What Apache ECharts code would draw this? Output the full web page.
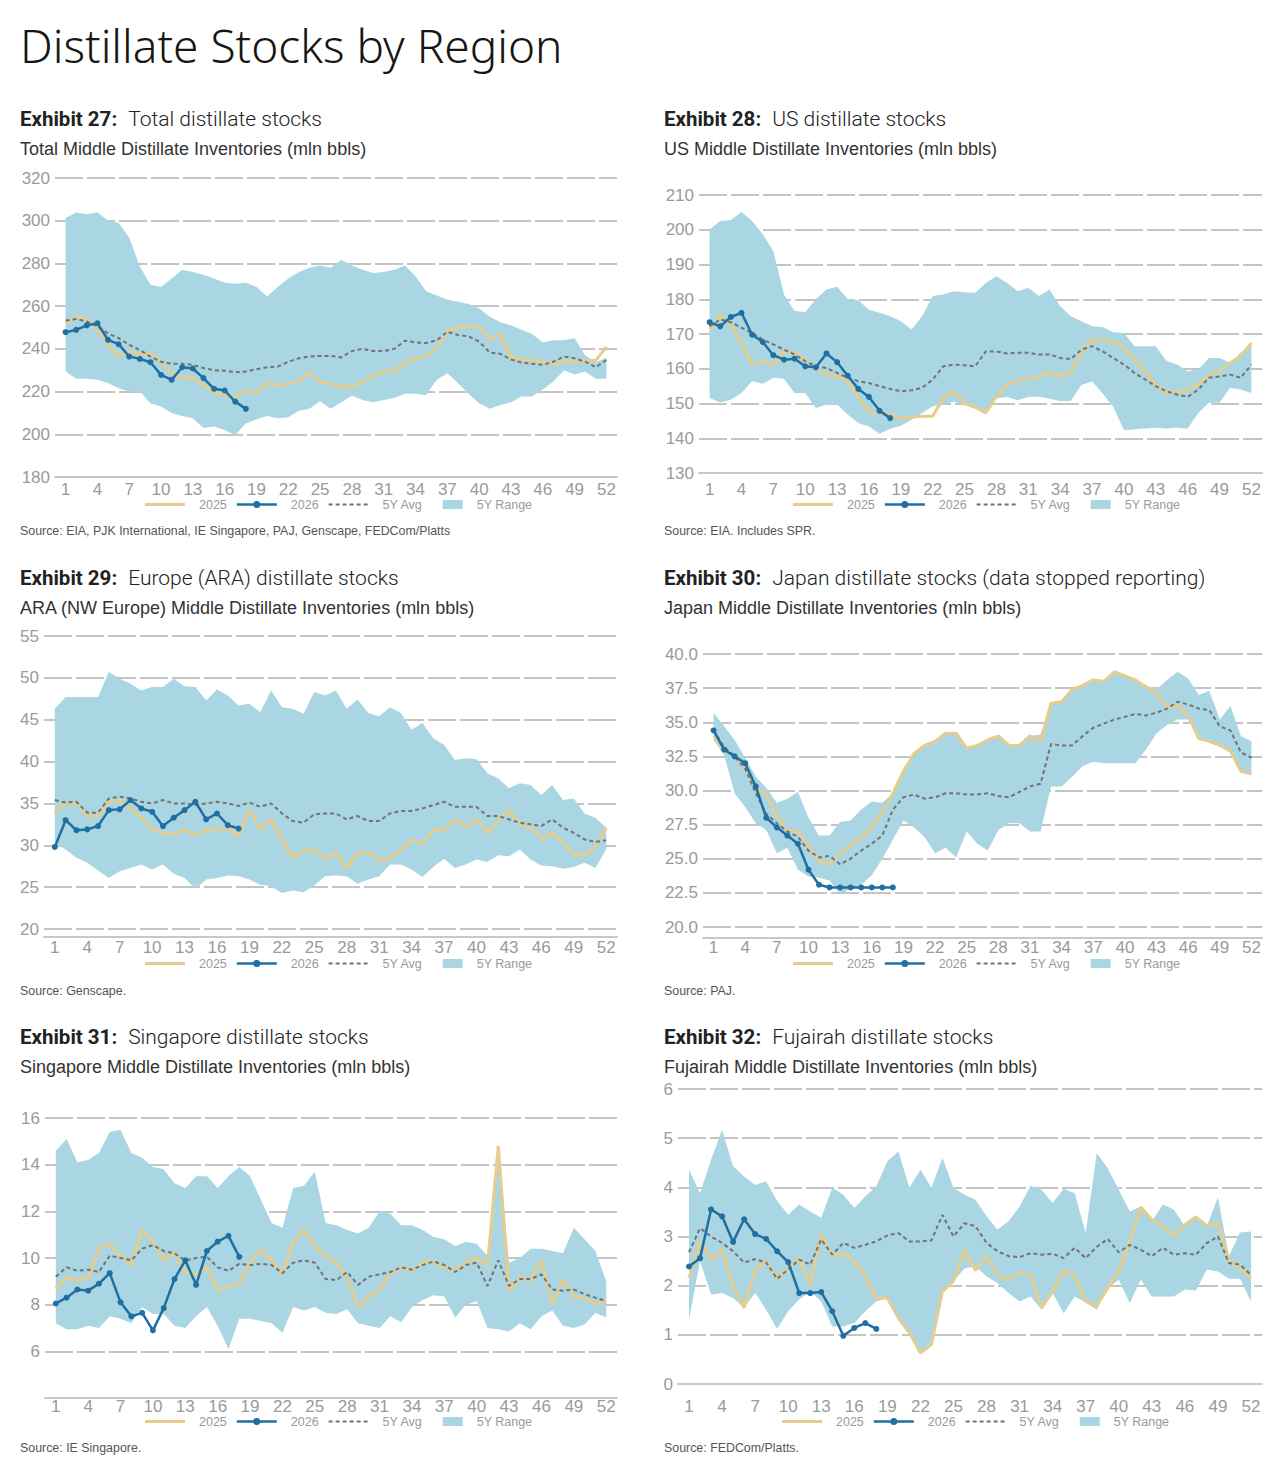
<!DOCTYPE html>
<html>
<head>
<meta charset="utf-8">
<title>Distillate Stocks by Region</title>
<script src="https://cdn.jsdelivr.net/npm/echarts@6/dist/echarts.min.js"></script>
<style>
  html, body { margin: 0; padding: 0; background: #fff; }
  #page { position: relative; width: 1284px; height: 1482px; overflow: hidden; }
  #chart { position: absolute; left: 0; top: 0; width: 1284px; height: 1482px; }
  .t { position: absolute; white-space: nowrap; }
  .title { left: 20px; top: 15px; font: 300 46px "Noto Sans"; color: #161616; line-height: 60px; }
  .ex { font: 300 21px Roboto; color: #222; line-height: 24px; }
  .ex b { font-weight: 700; font-size: 20.5px; margin-right: 11px; }
  .sub { font: 400 18px "Liberation Sans"; color: #333; line-height: 20px; }
  .src { font: 400 12.4px "Liberation Sans"; color: #555; line-height: 14px; }
</style>
</head>
<body>
<div id="page">
  <div id="chart"></div>
  <div class="t title">Distillate Stocks by Region</div>
</div>
<script>
// weeks 1..52, labels every third week
const WEEKS = Array.from({ length: 52 }, (_, i) => String(i + 1));
const WEEK_TICKS = ["1", "4", "7", "10", "13", "16", "19", "22", "25", "28", "31", "34", "37", "40", "43", "46", "49", "52"];

// --- Exhibit 27: total (mln bbls)
const TOTAL_MIN = [229.4,226,226,225.5,224,221.6,220,220,214.5,213,210,208.6,207.5,203,203.6,202,199.7,205,207,208.6,207.5,208,211,212,215.5,212,215,218,216,215,216,217,219,219,218.4,225.5,228.6,224,219,214.5,212,213.7,215,217.7,217.7,221,224.7,230,228,229.4,226,226];
const TOTAL_MAX = [301.3,303.9,303,304,300,299,292,278.6,270,269,273,277,276,274.7,273,271,270.5,271,269,264.5,269,273,276,278,279,278,281.7,279,277,275.5,276,277,279,274,267,265,263,262,261,259,255,252.5,251,249,247,243,244,244,245,237,233.6,236];
const TOTAL_AVG = [253.3,254,252.8,250.5,247.3,245,241.9,239.5,236.4,234,233,233,232.5,231,230,229.8,229,229.4,230.5,231.4,231.7,234,235.6,236.4,236.7,236.7,236,239,240,239,239,240,243.8,243,242.7,244,248,246.5,245.8,243.4,238.3,237.7,235,233.6,233,232.5,234,236.4,235.6,234,231.4,234.8];
const TOTAL_2025 = [252,255,254,249,242,236.4,238.8,237.2,238,234,228.6,226.3,226.7,223,219.5,218.4,217.3,220.8,219.5,224,223,223.6,225,229,224.5,223.6,222.3,222.3,224.7,227.5,229.5,229.5,233.5,235.5,236.5,241,248,250,250.5,250.5,244.5,247,236,235,234.5,234,232.5,234.5,233.5,234.5,234.5,241];
const TOTAL_2026 = [247.8,248.9,251,252,244.2,242.2,236.4,235.3,233.75,227.8,225.5,231.4,230.8,226.3,221.3,220.5,215.3,211.9];

// --- Exhibit 28: US
const US_MIN = [151.6,150.3,151.1,153,156.4,155.7,157.4,157.1,153,153,148.7,149.7,149.7,146.8,144.4,143.4,141.3,142.7,143.6,145.3,147.3,149.2,149.7,150.6,149.5,148.5,147,151.5,151.9,150.9,151.9,152,151.4,150.7,150.7,155.3,156.4,152.9,149.1,142.3,142.6,142.8,143,142.8,143,142.8,147.3,150.2,150.2,154.5,154,153];
const US_MAX = [200.1,202.5,202.8,205.1,202.5,198.7,193.9,181.4,176.6,176.3,180,182.8,183.6,180.1,179.7,177,176.1,175.1,173.7,171.3,175.1,180.9,181.4,182.3,182,181.9,184.7,186.6,184.7,182.3,183.3,180.9,182.8,178,175.1,173.7,172.2,172,170.5,170.3,166.5,166.5,166.5,162.2,161.2,159.3,159.8,163.1,163.1,161.7,164.6,167.4];
const US_AVG = [172.2,174.2,173.4,171.8,170.3,168.4,167,165.5,164.1,162.2,160.7,160.2,158.8,157.4,156.4,155.9,155,154.2,153.5,153.8,154.5,156.9,160.7,161.2,161,160.7,165,165,164.4,164.6,164.6,164.1,164.1,163.1,162.8,165.5,166.5,165,163.1,161.2,158.8,156.9,155,153.5,152.6,151.9,154,157.4,157.8,158.3,157.4,161.2];
const US_2025 = [171.3,175.6,172.7,167.4,161.2,162.2,160.9,165,164.4,162.6,160.2,158.3,157.8,156.4,151.6,147.8,147.3,146.8,145.5,146.1,146.3,146.3,151.6,153.5,150,149,147.3,152,155.4,156.9,157.2,157.7,159,157.8,159,164.6,168.6,168,168,166,162.6,159.3,155.4,153,153.5,154,155.4,158.3,159.3,161.7,163.6,167.4];
const US_2026 = [173.4,172.2,174.9,176.1,169.8,167.7,163.9,162.6,162.9,160.7,160.4,164.4,161.9,158,154.2,151.9,147.9,145.8];

// --- Exhibit 29: ARA
const ARA_MIN = [30.2,29.5,28.5,27.9,27,26.1,26.9,27.3,27.7,27.1,27.7,26.6,26.1,24.8,25.9,26.1,26.4,26.3,25.9,25.3,25.1,24.3,24.6,24.4,25.2,26.3,26.4,26.3,25.4,25.9,26.3,27.7,27.7,27.1,26.2,27.4,28.4,27.3,27.7,28.3,28,28.8,28.7,29.5,28.3,27.6,27.5,27.2,27.4,27.9,27.3,29.5];
const ARA_MAX = [46.3,47.7,47.7,47.7,47.7,50.7,49.9,49.3,48.5,48.9,48.9,49.9,49,48.9,47.3,48.6,47.9,46.7,46.9,45.9,48.5,46.5,46.3,45.7,48.3,47.9,48.5,46.3,47.4,45.8,45.4,46.5,45.8,43.8,44.6,42.8,42,40.2,40.4,40.3,38.6,38,36.8,37.4,37.2,36,37.2,35.4,35.6,33.8,33.3,32.1];
const ARA_AVG = [35.4,35.1,35.2,33.9,33.9,35.6,35.8,35.6,35.2,35,35.4,35,35,34.8,35,35.2,35,34.7,35.1,34.6,35,33.8,32.9,32.7,33.7,33.8,33.8,33.1,33.5,32.9,32.9,33.8,34.1,34.1,34.4,34.8,35.2,34.6,34.6,34.6,33.5,33.5,33.1,32.7,32.5,32.3,33.1,32.1,31.5,30.7,30.4,30.6];
const ARA_2025 = [33.9,35,35.1,33.5,33.5,35.2,35.4,34.4,33.3,31.9,31.5,31.3,31.8,31.2,31.8,31.9,32.1,31.1,34.2,31.9,33.1,30.7,28.5,29.3,29.4,28.5,29.1,27.3,29.1,29.1,28.2,28.4,29.5,30.6,30.2,31.8,31.8,33.1,32.2,33.1,31.5,32.9,34.2,32.5,32.3,30.7,31.5,30.3,28.9,28.8,29.9,32.1];
const ARA_2026 = [29.8,33,31.8,31.9,32.3,34.2,34.3,35.4,34.4,34,32.3,33.3,34.2,35.2,33.1,33.8,32.4,32];

// --- Exhibit 30: Japan
const JP_MIN = [33.7,32.6,29.8,28.8,27.6,27.1,25.4,25.8,24.2,23.7,23.6,23.4,22.4,22.8,23.1,23.8,25,26.4,27.8,27.3,26.6,25.4,25.8,25.1,27,26.1,25.6,27.1,27.6,27.6,27,27,30.3,30.3,31,31.8,32.1,32,32,32,32,33,34.2,34.8,35.2,35.2,33.8,33.6,33.3,32.9,31.4,31.2];
const JP_MAX = [35.7,34.7,33.7,32.4,31,30.2,29.1,29.4,29.9,28,26.7,26.7,27.7,27.8,28.6,29.2,29.1,29.8,31.4,32.7,33.3,33.6,34.2,34.2,33.1,33.3,33.7,34,33.3,33.3,34,34.1,36.4,36.5,37.4,37.7,38.1,38,38.7,38.4,38.1,37.7,37.4,38.1,38.7,38.2,37,37.3,35.2,36.2,34,33.6];
const JP_AVG = [34.4,33.2,32.5,31.6,29.8,28.3,27.6,27,26.6,25.6,25.1,25.2,24.6,25,25.6,26.1,26.7,28.6,29.5,29.7,29.4,29.5,29.8,29.8,29.7,29.7,29.8,29.6,29.5,29.9,30.3,30.5,33.4,33.3,33.3,34,34.6,34.9,35.2,35.4,35.6,35.5,35.7,36,36.5,36.3,36,35.9,34.7,34.4,32.8,32.4];
const JP_2025 = [34,33,32.5,31.7,30.2,29.7,28.2,27,27,25.9,24.8,24.6,25.4,26,26.5,27.3,28.4,29.8,31.4,32.7,33.3,33.6,34.2,34.2,33.1,33.3,33.7,34,33.3,33.3,34,33.6,36.4,36.5,37.4,37.7,38.1,38,38.7,38.4,38.1,37.6,37.1,36.1,36.2,35.5,33.8,33.6,33.3,32.9,31.4,31.2];
const JP_2026 = [34.4,33,32.5,32,30.3,28,27.3,26.7,26.1,24.2,23.1,22.9,22.9,22.9,22.9,22.9,22.9,22.9];

// --- Exhibit 31: Singapore
const SG_MIN = [7.2,6.95,6.95,7.1,7,7.5,7.4,7.2,7.9,7.6,7.6,7.1,7,7.5,7.9,7.1,6.1,7.4,7.4,7.3,7.2,6.8,7.9,7.75,7.9,7.65,7.6,7.8,7.2,7.1,7,7.5,7.25,7.9,8.2,8.4,8.35,7.45,8,8.15,7,6.95,6.85,7.2,6.95,7.5,7.75,7.1,7,7.15,7.65,7.45];
const SG_MAX = [14.6,15.1,14.1,14.2,14.5,15.4,15.5,14.5,14.3,13.9,13.8,13.2,13,13.5,13.5,13,13.5,13.9,13.5,12.5,11.5,11.3,13,13.1,13.7,11.5,11.4,11.2,11.05,11.3,12,11.9,11.4,11.4,11.2,10.9,10.8,10.5,10.7,10.6,10.1,14.7,9.8,10,10.4,10.4,10.3,10.2,11.3,10.8,10.3,9];
const SG_AVG = [9.2,9.6,9.45,9.5,9.4,10.1,10,9.9,10.4,10.55,10.3,10.2,9.9,10,10.05,9.6,9.45,9.75,9.7,9.75,9.7,9.35,9.8,9.9,9.8,9.1,9.05,9.4,8.85,9.2,9.3,9.4,9.6,9.5,9.7,9.85,9.7,9.4,9.7,9.8,8.8,9.9,8.8,9.1,9.1,9.3,8.65,8.6,8.65,8.45,8.3,8.15];
const SG_2025 = [8.7,9.15,9.05,9.15,10.4,10.6,10.1,9.7,11.2,10.7,9.9,10.2,9.35,9.3,9.6,8.6,8.75,8.9,9.8,10.35,9.9,9.3,10.7,11.2,10.5,10.05,9.8,9.15,7.9,8.35,8.65,9.35,9.6,9.45,9.8,9.85,9.6,9.5,9.8,10,9.7,14.8,8.6,9.15,9.05,9.9,8,9.05,8.35,8.3,8,8.2];
const SG_2026 = [8.05,8.3,8.65,8.6,8.9,9.35,8.1,7.5,7.65,6.9,7.85,9.1,9.9,8.85,10.3,10.7,10.95,10.05];

// --- Exhibit 32: Fujairah
const FUJ_MIN = [1.31,2.5,1.82,1.85,1.75,1.55,1.85,1.51,1.12,1.48,1.72,1.88,1.68,1.17,1.17,1.24,1.48,1.68,1.75,1.34,1.04,0.63,0.8,1.85,2.09,2.35,2.39,2.19,2.05,1.85,1.68,1.78,1.51,1.85,1.44,1.78,1.66,1.51,1.95,2.12,1.65,2.12,1.78,1.78,1.78,1.92,1.9,2.33,2.29,2.14,2.14,1.68];
const FUJ_MAX = [4.36,3.88,4.56,5.17,4.43,4.22,4.05,4.12,3.72,3.44,3.65,3.51,3.38,3.99,3.85,3.58,3.82,4.02,4.53,4.73,3.99,4.36,3.99,4.6,3.99,3.85,3.75,3.41,3.14,3.31,3.61,4.03,3.95,3.68,3.97,3.88,3.07,4.7,4.39,3.95,3.51,3.61,3.31,3.65,3.55,3.21,3.38,3.21,3.8,2.6,3.08,3.1];
const FUJ_AVG = [2.68,3.17,3,2.87,2.7,2.47,2.54,2.47,2.14,2.33,2.53,2.43,2.94,2.63,2.87,2.77,2.83,2.9,3.02,3.07,2.9,2.9,2.92,3.44,3,3.27,3.21,2.87,2.7,2.6,2.58,2.66,2.63,2.65,2.56,2.77,2.56,2.79,2.95,2.68,2.83,2.73,2.6,2.77,2.63,2.66,2.63,2.87,3,2.46,2.43,2.22];
const FUJ_2025 = [2.16,2.9,2.53,2.73,1.99,1.55,2.33,2.5,2.14,2.36,2.56,2.02,3.04,2.6,2.66,2.5,2.19,1.75,1.75,1.34,1.04,0.63,0.8,1.88,2.09,2.73,2.31,2.6,2.22,2.12,2.27,2.22,1.55,1.88,2.31,2.19,1.68,1.58,1.95,2.3,2.9,3.6,3.34,3.21,3.02,3.24,3.4,3.22,3.27,2.53,2.34,2.16];
const FUJ_2026 = [2.39,2.56,3.55,3.41,2.89,3.35,3.05,2.95,2.7,2.48,1.85,1.85,1.87,1.48,0.98,1.14,1.24,1.12];

// colours
const C_BAND = "#a9d6e2";
const C_2025 = "#e6cd8e";
const C_2026 = "#1f6fa3";
const C_AVG = "#737373";
const C_GRID = "#c4c4c4";
const C_LABEL = "#9a9a9a";

// layout of the six panels (page pixels); grid = [left, right, top, bottom]
const PANELS = [
  { ex: "Exhibit 27:", head: "Total distillate stocks", sub: "Total Middle Distillate Inventories (mln bbls)",
    src: "Source: EIA, PJK International, IE Singapore, PAJ, Genscape, FEDCom/Platts",
    x: 20, headY: 119, subY: 149, srcY: 531, grid: [55, 617, 178, 477], y: [180, 320, 20], off: 0, lm: 4,
    legend: [140, 503], d: [TOTAL_MIN, TOTAL_MAX, TOTAL_AVG, TOTAL_2025, TOTAL_2026] },
  { ex: "Exhibit 28:", head: "US distillate stocks", sub: "US Middle Distillate Inventories (mln bbls)",
    src: "Source: EIA. Includes SPR.",
    x: 664, headY: 119, subY: 149, srcY: 531, grid: [699, 1262, 195, 473], y: [130, 210, 10], off: 0, lm: 8,
    legend: [788, 503], d: [US_MIN, US_MAX, US_AVG, US_2025, US_2026] },
  { ex: "Exhibit 29:", head: "Europe (ARA) distillate stocks", sub: "ARA (NW Europe) Middle Distillate Inventories (mln bbls)",
    src: "Source: Genscape.",
    x: 20, headY: 578, subY: 608, srcY: 991, grid: [44, 617, 636, 929], y: [20, 55, 5], off: 8, lm: 2,
    legend: [140, 962], d: [ARA_MIN, ARA_MAX, ARA_AVG, ARA_2025, ARA_2026] },
  { ex: "Exhibit 30:", head: "Japan distillate stocks (data stopped reporting)", sub: "Japan Middle Distillate Inventories (mln bbls)",
    src: "Source: PAJ.",
    x: 664, headY: 578, subY: 608, srcY: 991, grid: [703, 1262, 654, 927], y: [20, 40, 2.5], off: 11, lm: 1, fixed: 1,
    legend: [788, 962], d: [JP_MIN, JP_MAX, JP_AVG, JP_2025, JP_2026] },
  { ex: "Exhibit 31:", head: "Singapore distillate stocks", sub: "Singapore Middle Distillate Inventories (mln bbls)",
    src: "Source: IE Singapore.",
    x: 20, headY: 1037, subY: 1067, srcY: 1448, grid: [45, 617, 1118, 1398], y: [4, 16, 2], off: 0, lm: 0, hideMin: true,
    legend: [140, 1420], d: [SG_MIN, SG_MAX, SG_AVG, SG_2025, SG_2026] },
  { ex: "Exhibit 32:", head: "Fujairah distillate stocks", sub: "Fujairah Middle Distillate Inventories (mln bbls)",
    src: "Source: FEDCom/Platts.",
    x: 664, headY: 1037, subY: 1067, srcY: 1448, grid: [678, 1262, 1089, 1384], y: [0, 6, 1], off: 13, lm: 1,
    legend: [777, 1420], d: [FUJ_MIN, FUJ_MAX, FUJ_AVG, FUJ_2025, FUJ_2026] },
];

// html headings
const page = document.getElementById("page");
function addText(cls, x, yCenter, lh, html) {
  const el = document.createElement("div");
  el.className = "t " + cls;
  el.style.left = x + "px";
  el.style.top = (yCenter - lh / 2) + "px";
  el.innerHTML = html;
  page.appendChild(el);
}
PANELS.forEach((p) => {
  addText("ex", p.x, p.headY, 24, `<b>${p.ex}</b>${p.head}`);
  addText("sub", p.x, p.subY, 20, p.sub);
  addText("src", p.x, p.srcY, 14, p.src);
});

// categories padded by one empty slot each side so week 1 / 52 sit inside the gridlines
const CATS = ["pad0", ...WEEKS, "pad53"];
const TICK_SET = new Set(WEEK_TICKS);
const pad = (a) => [null, ...a, ...Array(CATS.length - 1 - a.length).fill(null)];

// legend icons drawn in a 40x12 box (the leading M points fix the box size)
const BOX = "M0,0 M40,12 ";
const ICON_RANGE = "path://" + BOX + "M10,1.5 L30,1.5 L30,10.5 L10,10.5 Z";
const ICON_2025 = "path://" + BOX + "M0,4.5 L40,4.5 L40,7.5 L0,7.5 Z";
const ICON_2026 = "path://" + BOX + "M0,4.8 L40,4.8 L40,7.2 L0,7.2 Z M16.5,6 A3.5,3.5 0 1,1 23.5,6 A3.5,3.5 0 1,1 16.5,6 Z";
let dashes = "";
for (let x = 0; x < 40; x += 7) dashes += `M${x},5 L${x + 4},5 L${x + 4},7 L${x},7 Z `;
const ICON_AVG = "path://" + BOX + dashes;

const grids = [], xAxes = [], yAxes = [], series = [], legends = [];
PANELS.forEach((p, i) => {
  const [gl, gr, gt, gb] = p.grid;
  const [ymin, ymax, yint] = p.y;
  const [dMin, dMax, dAvg, d25, d26] = p.d;
  grids.push({ left: gl, top: gt, width: gr - gl, height: gb - gt });
  xAxes.push({
    gridIndex: i, type: "category", boundaryGap: false, data: CATS, offset: p.off,
    axisLine: { lineStyle: { color: "#c8c8c8", width: 2 } },
    axisTick: { show: false },
    axisLabel: { interval: (idx, val) => TICK_SET.has(val), color: C_LABEL, fontSize: 17,
      fontFamily: "Liberation Sans", margin: p.lm },
    splitLine: { show: false },
  });
  yAxes.push({
    gridIndex: i, type: "value", min: ymin, max: ymax, interval: yint,
    axisLine: { show: false }, axisTick: { show: false },
    axisLabel: { color: C_LABEL, fontSize: 17, fontFamily: "Liberation Sans", margin: 5,
      showMinLabel: !p.hideMin,
      formatter: (v) => (p.fixed ? v.toFixed(p.fixed) : String(v)) },
    splitLine: { lineStyle: { color: C_GRID, width: 2, type: [28, 4] } },
  });
  const base = { type: "line", xAxisIndex: i, yAxisIndex: i, animation: false };
  series.push({ ...base, name: "min" + i, stack: "band" + i, data: pad(dMin), symbol: "none",
    lineStyle: { width: 0, opacity: 0 }, silent: true });
  series.push({ ...base, name: "5Y Range", stack: "band" + i, data: pad(dMax.map((v, k) => +(v - dMin[k]).toFixed(3))),
    symbol: "none", itemStyle: { color: C_BAND }, lineStyle: { width: 0, opacity: 0 },
    areaStyle: { color: C_BAND, opacity: 1 } });
  series.push({ ...base, name: "2025", data: pad(d25), symbol: "none",
    itemStyle: { color: C_2025 }, lineStyle: { color: C_2025, width: 3 } });
  series.push({ ...base, name: "5Y Avg", data: pad(dAvg), symbol: "none",
    itemStyle: { color: C_AVG }, lineStyle: { color: C_AVG, width: 2, type: [4, 3] } });
  series.push({ ...base, name: "2026", data: pad(d26), symbol: "circle", symbolSize: 6, showSymbol: true,
    itemStyle: { color: C_2026 }, lineStyle: { color: C_2026, width: 2.5 } });
  legends.push({
    left: p.legend[0], top: p.legend[1] - 10, itemWidth: 40, itemHeight: 12, itemGap: 10,
    selectedMode: false,
    textStyle: { color: C_LABEL, fontSize: 12.5, fontFamily: "Liberation Sans", padding: [0, 0, 0, 9] },
    data: [
      { name: "2025", icon: ICON_2025 },
      { name: "2026", icon: ICON_2026 },
      { name: "5Y Avg", icon: ICON_AVG },
      { name: "5Y Range", icon: ICON_RANGE, textStyle: { padding: [0, 0, 0, -1] } },
    ],
  });
});

const chart = echarts.init(document.getElementById("chart"), null, { renderer: "svg" });
chart.setOption({
  backgroundColor: "#fff",
  animation: false,
  grid: grids,
  xAxis: xAxes,
  yAxis: yAxes,
  legend: legends,
  series,
});
</script>
</body>
</html>
